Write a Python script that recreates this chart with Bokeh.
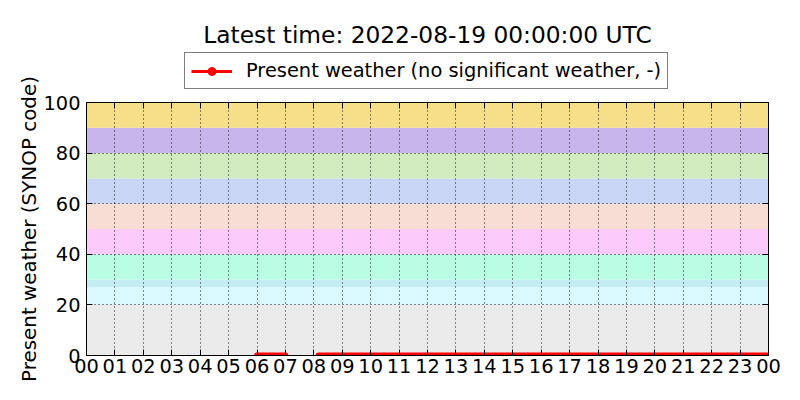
import numpy as np
import pandas as pd
from datetime import datetime
from bokeh.plotting import figure
from bokeh.layouts import column, row
from bokeh.models import (Range1d, FixedTicker, DatetimeTickFormatter, LinearAxis,
                          DatetimeAxis, Legend, LegendItem, ColumnDataSource, Label)
from bokeh.embed import file_html
from bokeh.resources import INLINE

# ---- data ----
title_text = "Latest time: 2022-08-19 00:00:00 UTC"
series_label = "Present weather (no significant weather, -)"
y_label = "Present weather (SYNOP code)"

day_start = datetime(2022, 8, 18, 0, 0)
day_end = datetime(2022, 8, 19, 0, 0)

seg1_times = pd.date_range("2022-08-18 06:00", "2022-08-18 07:00", freq="10min")
seg2_times = pd.date_range("2022-08-18 08:10", "2022-08-19 00:00", freq="10min")
seg1_values = [0] * len(seg1_times)
seg2_values = [0] * len(seg2_times)

band_low = [0, 20, 27, 30, 40, 50, 60, 70, 80, 90]
band_high = [20, 27, 30, 40, 50, 60, 70, 80, 90, 100]
band_colors = ["#ebebeb", "#d9f9fe", "#c4ecf4", "#b8fde4", "#fbcafb",
               "#f8ddd4", "#c8d5f4", "#d1ebbf", "#c8b5ec", "#f7de89"]

hour_ticks = [t.timestamp() * 1000 for t in pd.date_range(day_start, day_end, freq="1h")]
y_ticks = [0, 20, 40, 60, 80, 100]

FONT = "DejaVu Sans"
FS = "19.4px"
TITLE_FS = "23.3px"

def to_ms(times):
    return [t.timestamp() * 1000 for t in times]

LABEL_W = 40
HEADER_H = 90
FRAME_LEFT = 86     # page x of plot frame left
FRAME_TOP = 102     # page y of plot frame top

# ---- y-axis label strip (full height so the long label is not cut) ----
lab = figure(width=LABEL_W, height=400, output_backend="svg", toolbar_location=None,
             x_range=Range1d(0, 1), y_range=Range1d(0, 1),
             x_axis_location=None, y_axis_location=None,
             min_border_left=0, min_border_right=0, min_border_top=0, min_border_bottom=0)
lab.outline_line_color = None
lab.xgrid.visible = False
lab.ygrid.visible = False
lab.add_layout(Label(x=29, y=400 - 228.5, x_units="screen", y_units="screen",
                     text=y_label, angle=90, angle_units="deg",
                     text_font=FONT, text_font_size="19.9px", text_color="black",
                     text_align="center", text_baseline="middle"))

# ---- header (title + legend) ----
hdr = figure(width=800 - LABEL_W, height=HEADER_H, output_backend="svg", toolbar_location=None,
             x_range=Range1d(0, 1), y_range=Range1d(0, 1),
             x_axis_location=None, y_axis_location=None,
             min_border_left=0, min_border_right=0, min_border_top=0, min_border_bottom=0)
hdr.outline_line_color = None
hdr.xgrid.visible = False
hdr.ygrid.visible = False

hdr.add_layout(Label(x=427 - FRAME_LEFT, y=HEADER_H - 34, x_units="screen", y_units="screen",
                     text=title_text, text_font=FONT, text_font_size=TITLE_FS,
                     text_color="black", text_align="center", text_baseline="alphabetic"))

# legend proxies (kept outside the header's visible range)
lg_line = hdr.line(x=[-5, -4], y=[-5, -5], line_color="red", line_width=3)
lg_dot = hdr.scatter(x=[-5], y=[-5], size=5, color="red")
legend = Legend(items=[LegendItem(label=series_label, renderers=[lg_line, lg_dot])],
                location=(184 - FRAME_LEFT, HEADER_H - 89), orientation="horizontal",
                label_text_font=FONT, label_text_font_size=FS, label_text_color="black",
                glyph_width=41, glyph_height=20, label_height=20, label_standoff=14,
                padding=6, margin=0, border_line_color="black", border_line_width=1,
                background_fill_color="white", background_fill_alpha=1.0)
hdr.add_layout(legend, "center")

# ---- main figure ----
p = figure(width=800 - LABEL_W, height=400 - HEADER_H, output_backend="svg",
           toolbar_location=None, x_axis_type="datetime",
           x_range=Range1d(day_start, day_end), y_range=Range1d(0, 100),
           min_border_left=FRAME_LEFT - LABEL_W, min_border_right=32,
           min_border_bottom=45, min_border_top=FRAME_TOP - HEADER_H)

p.outline_line_color = "black"
p.outline_line_width = 1
p.background_fill_color = "white"

# background bands
p.quad(left=[day_start] * len(band_low), right=[day_end] * len(band_low),
       bottom=band_low, top=band_high, fill_color=band_colors,
       line_color=None, level="image")

# data (NaN breaks the line between the two observed segments)
x_all = np.array(to_ms(seg1_times) + [np.nan] + to_ms(seg2_times), dtype=float)
y_all = np.array(seg1_values + [np.nan] + seg2_values, dtype=float)
src = ColumnDataSource(dict(x=x_all, y=y_all))
p.line("x", "y", source=src, line_color="red", line_width=6, line_cap="round")
p.scatter("x", "y", source=src, size=4, color="red")

# grids
for g in (p.xgrid, p.ygrid):
    g.grid_line_color = "black"
    g.grid_line_dash = "1 3"
    g.grid_line_width = 1
    g.grid_line_alpha = 0.9
p.xgrid.ticker = FixedTicker(ticks=hour_ticks)
p.ygrid.ticker = FixedTicker(ticks=y_ticks)

fmt = DatetimeTickFormatter(milliseconds="%H", seconds="%H", minsec="%H", minutes="%H",
                            hourmin="%H", hours="%H", days="%H", months="%H", years="%H")

def style(ax):
    ax.axis_line_color = "black"
    ax.major_tick_in = 6
    ax.major_tick_out = 0
    ax.major_tick_line_color = "black"
    ax.minor_tick_line_color = None
    ax.major_label_text_font = FONT
    ax.major_label_text_font_size = FS
    ax.major_label_text_color = "black"

xa = p.xaxis[0]
xa.ticker = FixedTicker(ticks=hour_ticks)
xa.formatter = fmt
style(xa)
xa.major_label_standoff = 3

ya = p.yaxis[0]
ya.ticker = FixedTicker(ticks=y_ticks)
style(ya)
ya.major_label_standoff = 6

ra = LinearAxis(ticker=FixedTicker(ticks=y_ticks),
                major_label_overrides={t: "" for t in y_ticks})
style(ra)
ra.major_label_standoff = 0
p.add_layout(ra, "right")

ta = DatetimeAxis(ticker=FixedTicker(ticks=hour_ticks), formatter=fmt,
                  major_label_overrides={t: "" for t in hour_ticks})
style(ta)
ta.major_label_standoff = 0
p.add_layout(ta, "above")

layout = row(lab, column(hdr, p, spacing=0), spacing=0)
open("out.html", "w").write(file_html(layout, INLINE))
